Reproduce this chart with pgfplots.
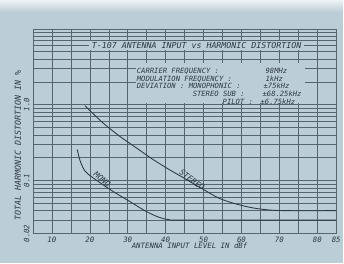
\documentclass[border=0pt]{standalone}
\usepackage{pgfplots}
\pgfplotsset{compat=1.18}
\usepackage{fontspec}
\setmonofont{DejaVu Sans Mono}
\definecolor{bg}{HTML}{BBCDD6}
\definecolor{gridc}{HTML}{56656F}
\definecolor{ink}{HTML}{2B3843}
\newcommand{\pf}[1]{\ttfamily\itshape\fontsize{#1}{#1}\selectfont}

\begin{document}
\begin{tikzpicture}[x=1pt,y=1pt]
\fill[bg] (0,0) rectangle (344,264);
\shade[top color=white!75!bg, bottom color=bg] (0,252) rectangle (344,264);
\begin{axis}[
  at={(33pt,30pt)}, anchor=south west, scale only axis,
  width=304pt, height=205pt,
  xmin=5, xmax=85, ymin=0.02, ymax=10, ymode=log,
  xtick={5,10,...,85},
  xticklabels={,10,,20,,30,,40,,50,,60,,70,,80,85},
  ytick={0.02,0.03,0.04,0.05,0.06,0.07,0.08,0.09,0.1,0.2,0.3,0.4,0.5,0.6,0.7,0.8,0.9,1,2,3,4,5,6,7,8,9,10},
  yticklabels={},
  extra y ticks={0.02,0.1,1},
  extra y tick labels={0.02,0.1,1.0},
  extra y tick style={yticklabel style={rotate=90, anchor=south}},
  grid=major,
  major grid style={gridc, line width=0.5pt},
  major tick length=0pt,
  axis line style={gridc, line width=0.7pt},
  tick label style={font=\pf{7.4}, text=ink},
  clip=false,
]
\addplot[ink, line width=0.85pt, smooth] coordinates {
  (18.7,0.97) (23.5,0.574) (27.9,0.383) (32.3,0.269) (36.7,0.189)
  (41.1,0.138) (45.5,0.103) (49.8,0.077) (54.2,0.058) (58.6,0.049)
  (63.0,0.0435) (67.4,0.0408) (72,0.0400) (85,0.0400)
};
\addplot[ink, line width=0.85pt, smooth] coordinates {
  (16.7,0.256) (17.4,0.185) (18.7,0.134) (20.9,0.108) (26.1,0.072)
  (30.5,0.053) (34.9,0.039) (38.4,0.0325) (41.1,0.0303) (45,0.0300) (85,0.0300)
};
\node[font=\pf{8}, text=ink, rotate=-36, inner sep=0pt] at (axis cs:47.0,0.102) {STEREO};
\node[font=\pf{8}, text=ink, rotate=-40, inner sep=0pt] at (axis cs:23.3,0.104) {MONO};
\end{axis}
% title box
\fill[bg] (89,213.5) rectangle (305,223);
\node[font=\pf{8.3}, text=ink, inner sep=0pt] at (197,218.3) {T-107 ANTENNA INPUT vs HARMONIC DISTORTION};
% annotation box
\fill[bg] (136,160.5) rectangle (306,201);
\begin{scope}[every node/.style={font=\pf{7.2}, text=ink, inner sep=0pt, anchor=base west}]
\node at (137,190.5) {CARRIER FREQUENCY :};
\node at (137,182.8) {MODULATION FREQUENCY :};
\node at (137,175.1) {DEVIATION : MONOPHONIC :};
\node at (193,167.4) {STEREO SUB :};
\node at (223,159.7) {PILOT :};
\node at (266,190.5) {98MHz};
\node at (266,182.8) {1kHz};
\node at (264,175.1) {±75kHz};
\node at (263,167.4) {±68.25kHz};
\node at (261,159.7) {±6.75kHz};
\end{scope}
% axis labels
\node[font=\pf{7.4}, text=ink, inner sep=0pt] at (190,18) {ANTENNA INPUT LEVEL IN dBf};
\node[font=\pf{8.3}, text=ink, inner sep=0pt, rotate=90] at (18,118) {TOTAL HARMONIC DISTORTION IN \%};
\end{tikzpicture}
\end{document}
